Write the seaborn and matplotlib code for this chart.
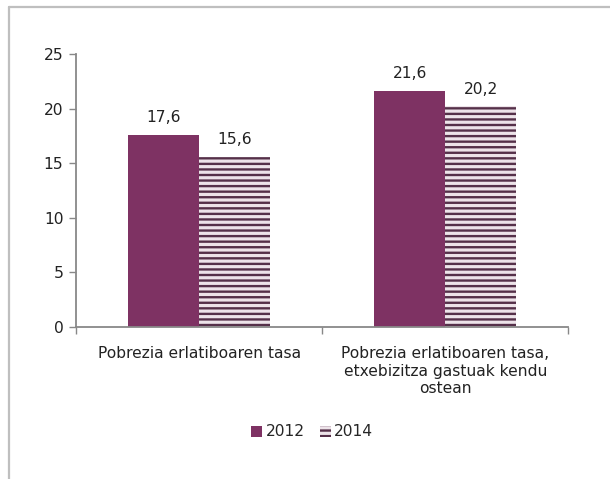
import numpy as np
import pandas as pd
import matplotlib.pyplot as plt
import seaborn as sns
from matplotlib.lines import Line2D

# data
categories = ["Pobrezia erlatiboaren tasa",
              "Pobrezia erlatiboaren tasa,\netxebizitza gastuak kendu\nostean"]
years = ["2012", "2014"]
values_2012 = [17.6, 21.6]
values_2014 = [15.6, 20.2]

df = pd.DataFrame({
    "Category": categories * 2,
    "Year": [years[0]] * 2 + [years[1]] * 2,
    "Value": values_2012 + values_2014,
})

sns.set_style("white")
plt.rcParams["font.family"] = ["DejaVu Sans"]
plt.rcParams["hatch.linewidth"] = 1.7
plt.rcParams["hatch.color"] = "#553049"

fig = plt.figure(figsize=(6.1, 4.79), dpi=100)
ax = fig.add_axes([0.1246, 0.3173, 0.807, 0.570])

sns.barplot(data=df, x="Category", y="Value", hue="Year",
            palette=["#7e3263", "#ede3e9"], width=0.577,
            saturation=1, legend=False, ax=ax)

# striped 2014 bars
for p in ax.containers[1]:
    p.set_hatch("---")
    p.set_edgecolor("#553049")
    p.set_linewidth(0)
for p in ax.containers[0]:
    p.set_linewidth(0)

fs = 11.2
for cont in ax.containers:
    ax.bar_label(cont, labels=[f"{v:.1f}".replace(".", ",") for v in cont.datavalues],
                 padding=7, fontsize=fs, color="#222222")

ax.set_ylim(0, 25)
ax.set_yticks(range(0, 26, 5))
ax.set_xlim(-0.5, 1.5)
ax.set_xticks([-0.5, 0.5, 1.5])
ax.set_xticklabels([])
ax.set_xticks([0, 1], minor=True)
ax.set_xticklabels(categories, minor=True, fontsize=fs, color="#222222")
ax.tick_params(axis="x", which="minor", bottom=True, length=0, pad=14)
ax.tick_params(axis="x", which="major", bottom=True, direction="out", length=5,
               color="#888888", width=1)
ax.tick_params(axis="y", left=True, direction="out", length=5, color="#888888", width=1,
               labelsize=fs, labelcolor="#222222", pad=4)
ax.set_xlabel("")
ax.set_ylabel("")

for s in ["top", "right"]:
    ax.spines[s].set_visible(False)
for s in ["left", "bottom"]:
    ax.spines[s].set_color("#888888")
    ax.spines[s].set_linewidth(1.3)

ax.legend(handles=[ax.containers[0], ax.containers[1]], labels=years,
          loc="center", bbox_to_anchor=(0.512, 47 / 479), bbox_transform=fig.transFigure,
          ncol=2, frameon=False, fontsize=fs, handlelength=0.7, handleheight=0.7,
          handletextpad=0.2, columnspacing=1.0)

# outer chart border (left and top)
fig.add_artist(Line2D([8.5 / 610, 8.5 / 610], [0, 1 - 6.5 / 479], color="#bfbfbf", lw=1.6,
                      transform=fig.transFigure))
fig.add_artist(Line2D([8.5 / 610, 1], [1 - 6.5 / 479, 1 - 6.5 / 479], color="#bfbfbf", lw=1.6,
                      transform=fig.transFigure))

fig.savefig("out.png", dpi=100)
